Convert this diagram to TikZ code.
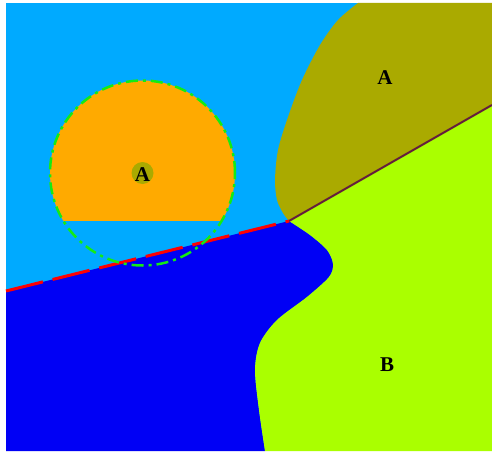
\documentclass[tikz,border=0pt]{standalone}
\usepackage{fontspec}
\setmainfont{Liberation Serif}
\usepackage{tikz}

\definecolor{skyblue}{RGB}{0,170,255}
\definecolor{deepblue}{RGB}{0,0,245}
\definecolor{olivezone}{RGB}{170,170,0}
\definecolor{limezone}{RGB}{170,255,0}
\definecolor{orangezone}{RGB}{255,170,0}
\definecolor{ringgreen}{RGB}{20,235,20}
\definecolor{edgebrown}{RGB}{100,30,60}

\begin{document}
\begin{tikzpicture}[x=1pt,y=-1pt,
lbl/.style={font=\fontsize{21}{24}\selectfont\bfseries,inner sep=0pt},
redline/.style={red,line width=3pt,dash pattern=on 38pt off 10pt},
ring/.style={ringgreen,line width=2.5pt,dash pattern=on 12pt off 5pt on 3pt off 5pt}]
\useasboundingbox (0,0) rectangle (492,452);
\fill[white] (0,0) rectangle (492,452);
\fill[skyblue] (6,3) rectangle (492,451);
\coordinate (J) at (289,221);
\coordinate (L) at (6,291);
\coordinate (R) at (492,105);
\coordinate (C) at (142.5,173);
% regions
\fill[olivezone] (492,3) -- plot[smooth] coordinates {(358,3) (338,20) (320,45) (302,80) (288,117) (278,150) (275,180) (277,200) (283,213) (289,221)} -- (R) -- cycle;
\fill[deepblue] (L) -- plot[smooth] coordinates {(289,221) (310,235) (327,250) (333,264) (329,277) (307,297) (277,320) (260,343) (255,370) (259,410) (265,451)} -- (6,451) -- cycle;
\fill[limezone] (R) -- plot[smooth] coordinates {(289,221) (310,235) (327,250) (333,264) (329,277) (307,297) (277,320) (260,343) (255,370) (259,410) (265,451)} -- (492,451) -- cycle;
% disc
\begin{scope}
\clip (0,0) rectangle (492,220.5);
\fill[orangezone] (C) circle[radius=92.5pt];
\end{scope}
\draw[edgebrown,line width=2pt] (J) -- (R);
\draw[redline] (L) -- (J);
\draw[ring] (C) circle[radius=92.5pt];
\fill[olivezone] (C) circle[radius=11pt];
\node[lbl] (a1) at (142.5,175) {A};
\node[lbl] (a2) at (385,78) {A};
\node[lbl] (b1) at (387,365) {B};
\end{tikzpicture}
\end{document}
